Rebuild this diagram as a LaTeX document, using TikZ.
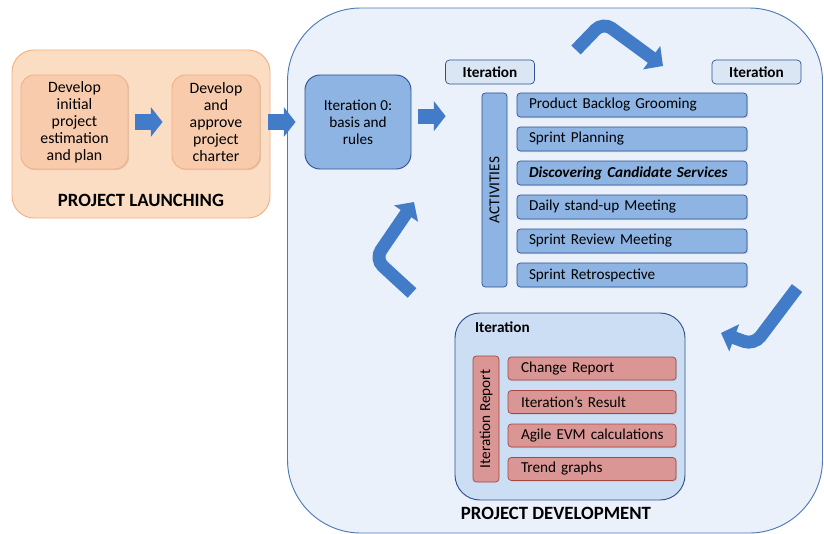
\documentclass[tikz,border=0pt]{standalone}
\usepackage{fontspec}
\setmainfont{Carlito}
\usetikzlibrary{arrows.meta, positioning, shadows}
\definecolor{launch_fill}{RGB}{251, 221, 196}
\definecolor{launch_line}{RGB}{243, 176, 128}
\definecolor{task_fill}{RGB}{248, 203, 173}
\definecolor{dev_fill}{RGB}{234, 241, 250}
\definecolor{dev_line}{RGB}{78, 122, 181}
\definecolor{iter_fill}{RGB}{142, 180, 227}
\definecolor{iter_line}{RGB}{47, 82, 143}
\definecolor{tag_fill}{RGB}{218, 230, 244}
\definecolor{box_fill}{RGB}{204, 222, 243}
\definecolor{rep_fill}{RGB}{218, 150, 148}
\definecolor{rep_line}{RGB}{165, 70, 66}
\definecolor{flow_blue}{RGB}{66, 124, 200}

\begin{document}
\begin{tikzpicture}[x=0.03cm, y=-0.03cm,
      phase/.style={rectangle, rounded corners=0.66cm, draw=launch_line,
                    fill=launch_fill, line width=0.8pt},
      task/.style={rectangle, rounded corners=0.4cm, draw=launch_line,
                   fill=task_fill, line width=0.8pt, minimum height=2.82cm,
                   align=center, font=\fontsize{13.5}{14.5}\selectfont,
                   drop shadow={opacity=0.25, shadow xshift=1pt, shadow yshift=-1pt}},
      devbox/.style={rectangle, rounded corners=2.2cm, draw=dev_line,
                     fill=dev_fill, line width=0.8pt},
      step0/.style={rectangle, rounded corners=0.45cm, draw=iter_line,
                    fill=iter_fill, line width=0.8pt, minimum width=3.18cm,
                    minimum height=2.82cm, align=center,
                    font=\fontsize{13}{14.5}\selectfont},
      tag/.style={rectangle, rounded corners=0.12cm, draw=iter_line,
                  fill=tag_fill, line width=0.6pt, minimum width=2.67cm,
                  minimum height=0.72cm, font=\fontsize{13}{15}\selectfont\bfseries},
      bar/.style={rectangle, rounded corners=0.1cm, draw=iter_line,
                  fill=iter_fill, line width=0.6pt, rotate=90,
                  font=\fontsize{13}{15}\selectfont},
      activity/.style={rectangle, rounded corners=0.1cm, draw=iter_line,
                       fill=iter_fill, line width=0.6pt, minimum height=0.72cm,
                       text width=6.18cm, inner xsep=0.36cm, align=left,
                       font=\fontsize{13}{15}\selectfont,
                       drop shadow={opacity=0.25, shadow xshift=1pt, shadow yshift=-1pt}},
      itbox/.style={rectangle, rounded corners=0.75cm, draw=iter_line,
                    fill=box_fill, line width=0.8pt},
      report/.style={rectangle, rounded corners=0.1cm, draw=rep_line,
                     fill=rep_fill, line width=0.6pt, minimum height=0.69cm,
                     text width=4.26cm, inner xsep=0.39cm, align=left,
                     font=\fontsize{13}{15}\selectfont,
                     drop shadow={opacity=0.25, shadow xshift=1pt, shadow yshift=-1pt}},
      title/.style={font=\fontsize{16}{18}\selectfont\bfseries},
      blockarr/.style={flow_blue, line width=13pt,
                       -{Triangle[length=10pt, width=25pt]}},
      cyclearr/.style={flow_blue, line width=11pt, rounded corners=9pt,
                       -{Triangle[length=12pt, width=24pt]}},
    ]
      \useasboundingbox (0,0) rectangle (824,533);

      % project launching
      \node[phase, minimum width=7.74cm, minimum height=5.04cm] (launch) at (141,134) {};
      \node[task, minimum width=3.21cm] (dev1) at (74.5,122)
            {Develop\\initial\\project\\estimation\\and plan};
      \node[task, minimum width=2.64cm] (dev2) at (216,122)
            {Develop\\and\\approve\\project\\charter};
      \node[title] (launchlbl) at (141,200) {PROJECT LAUNCHING};

      % project development
      \node[devbox, minimum width=16.05cm, minimum height=15.75cm] (devel) at (555,270.5) {};
      \node[step0] (iter0) at (358,122) {Iteration 0:\\basis and\\rules};
      \node[tag] (tagA) at (490,72) {Iteration};
      \node[tag] (tagB) at (756.5,72) {Iteration};

      \node[bar, minimum width=5.82cm, minimum height=0.75cm] (acts) at (494.5,190) {ACTIVITIES};
      \foreach \txt [count=\i from 0] in {Product Backlog Grooming, Sprint Planning,
          \textbf{\textit{Discovering Candidate Services}}, Daily stand-up Meeting,
          Sprint Review Meeting, Sprint Retrospective}
        \node[activity] (act\i) at (632,105+34*\i) {\mbox{\txt}};

      \node[itbox, minimum width=6.9cm, minimum height=5.61cm] (itbox) at (570,406.5) {};
      \node[font=\fontsize{13}{15}\selectfont\bfseries, anchor=west] (itlbl) at (471,327) {Iteration};
      \node[bar, draw=rep_line, fill=rep_fill, minimum width=3.78cm,
            minimum height=0.78cm] (rep) at (486,419) {Iteration Report};
      \foreach \txt [count=\i from 0] in {Change Report, Iteration’s Result,
          Agile EVM calculations, Trend graphs}
        \node[report] (rep\i) at (592,368.5+33.5*\i) {\mbox{\txt}};

      \node[title] (devlbl) at (556,513) {PROJECT DEVELOPMENT};

      % flow arrows
      \draw[blockarr, shorten <=0.21cm, shorten >=0.27cm] (dev1.east) -- (dev2.west);
      \draw[blockarr, shorten <=0.24cm, shorten >=0.27cm] (dev2.east) -- (dev2.east -| iter0.west);
      \draw[blockarr, shorten <=0.21cm, shorten >=1.08cm]
            ([yshift=5pt]iter0.east) -- ([yshift=5pt]iter0.east -| acts.north);

      % iteration cycle
      \coordinate (c1) at (576,50);
      \coordinate (c2) at (603,22);
      \coordinate (c3) at (663,66);
      \draw[cyclearr] (c1) -- (c2) -- (c3);
      \coordinate (c4) at (797,288);
      \coordinate (c5) at (754,345);
      \coordinate (c6) at (721,333);
      \draw[cyclearr] (c4) -- (c5) -- (c6);
      \coordinate (c7) at (412,293);
      \coordinate (c8) at (375,259);
      \coordinate (c9) at (414,202);
      \draw[cyclearr] (c7) -- (c8) -- (c9);
    \end{tikzpicture}
\end{document}
